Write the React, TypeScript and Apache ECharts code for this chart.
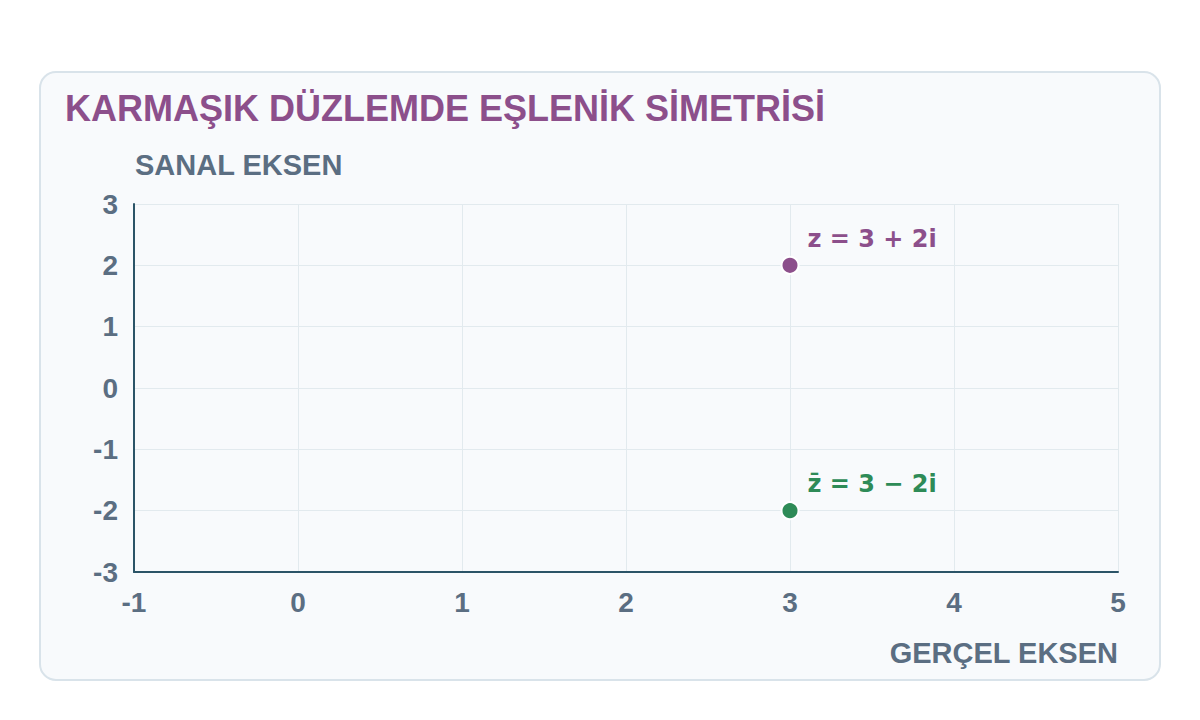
import React, { useEffect, useRef } from "react";
import * as echarts from "echarts";

const xTicks = [-1, 0, 1, 2, 3, 4, 5];
const yTicks = [-3, -2, -1, 0, 1, 2, 3];
const pointNames = ["z = 3 + 2i", "z̄ = 3 − 2i"];
const pointRe = [3, 3];
const pointIm = [2, -2];
const pointColors = ["#8c4f8b", "#2e8b57"];

const FONT = "'Liberation Sans', Arial, Helvetica, sans-serif";
const LABEL_FONT = "'DejaVu Sans', 'Liberation Sans', sans-serif";
const AXIS_TEXT = "#5b6e82";

export default function App() {
  const ref = useRef<HTMLDivElement>(null);
  useEffect(() => {
    if (!ref.current) return;
    const chart = echarts.init(ref.current, undefined, { renderer: "svg" });
    const series = pointNames.map((name, i) => ({
      type: "scatter",
      name,
      data: [[pointRe[i], pointIm[i]]],
      symbolSize: 17,
      itemStyle: { color: pointColors[i], opacity: 1, borderColor: "#ffffff", borderWidth: 2 },
      label: {
        show: true,
        formatter: name,
        position: [27, -17],
        align: "left",
        verticalAlign: "middle",
        color: pointColors[i],
        fontSize: 24,
        fontWeight: "bold",
        fontFamily: LABEL_FONT,
      },
      z: 5,
    }));
    chart.setOption({
      animation: false,
      textStyle: { fontFamily: FONT },
      graphic: [
        {
          type: "rect",
          shape: { x: 40, y: 72, width: 1120, height: 608, r: 16 },
          style: { fill: "#f8fafc", stroke: "#d9e3ea", lineWidth: 2 },
          z: -10,
          silent: true,
        },
        {
          type: "text",
          x: 65,
          y: 108,
          style: {
            text: "KARMAŞIK DÜZLEMDE EŞLENİK SİMETRİSİ",
            fill: "#8c4f8b",
            font: `bold 36px ${FONT}`,
            textVerticalAlign: "middle",
            textAlign: "left",
          },
        },
        {
          type: "text",
          x: 135,
          y: 165,
          style: {
            text: "SANAL EKSEN",
            fill: AXIS_TEXT,
            font: `bold 29px ${FONT}`,
            textVerticalAlign: "middle",
            textAlign: "left",
          },
        },
        {
          type: "text",
          x: 1118,
          y: 653,
          style: {
            text: "GERÇEL EKSEN",
            fill: AXIS_TEXT,
            font: `bold 29px ${FONT}`,
            textVerticalAlign: "middle",
            textAlign: "right",
          },
        },
      ],
      grid: { left: 134, right: 82, top: 204, bottom: 148, containLabel: false },
      xAxis: {
        type: "value",
        min: xTicks[0],
        max: xTicks[xTicks.length - 1],
        interval: 1,
        axisLine: { show: true, onZero: false, lineStyle: { color: "#2b5467", width: 2 } },
        axisTick: { show: false },
        splitLine: { show: true, lineStyle: { color: "#e2eaee", width: 1 } },
        axisLabel: { color: AXIS_TEXT, fontSize: 28, fontWeight: "bold", margin: 16, fontFamily: FONT },
      },
      yAxis: {
        type: "value",
        min: yTicks[0],
        max: yTicks[yTicks.length - 1],
        interval: 1,
        axisLine: { show: true, onZero: false, lineStyle: { color: "#2b5467", width: 2 } },
        axisTick: { show: false },
        splitLine: { show: true, lineStyle: { color: "#e2eaee", width: 1 } },
        axisLabel: { color: AXIS_TEXT, fontSize: 28, fontWeight: "bold", margin: 16, fontFamily: FONT },
      },
      series,
    });
    return () => chart.dispose();
  }, []);
  return (
    <div
      ref={ref}
      style={{ position: "fixed", left: 0, top: 0, width: 1200, height: 720, background: "#ffffff" }}
    />
  );
}
